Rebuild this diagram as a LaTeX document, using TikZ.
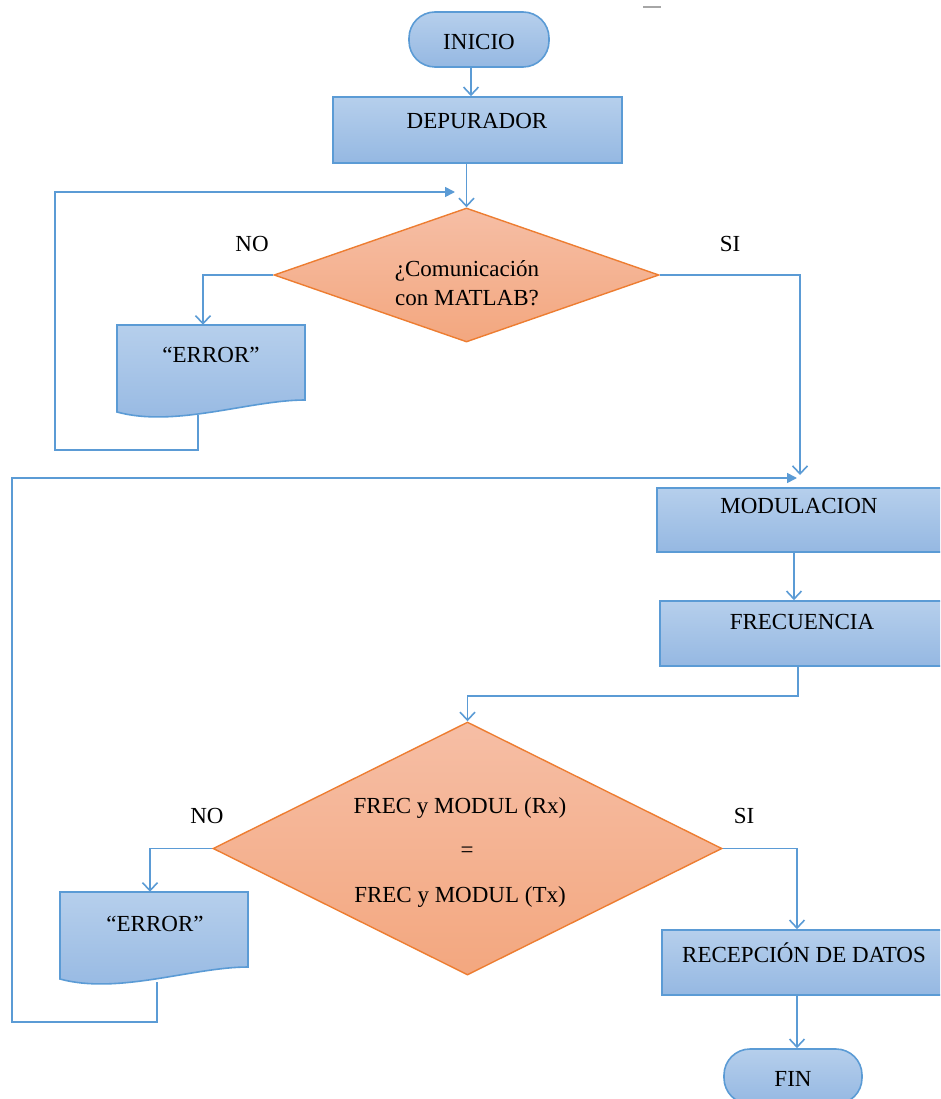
\documentclass[tikz,border=0pt]{standalone}
\usepackage{fontspec}
\setmainfont{Liberation Serif}
\usetikzlibrary{arrows.meta,calc,shapes.geometric}

\definecolor{boxtop}{HTML}{B6CFEC}
\definecolor{boxbot}{HTML}{95B8E2}
\definecolor{boxline}{HTML}{5B9BD5}
\definecolor{dectop}{HTML}{F6BEA5}
\definecolor{decbot}{HTML}{F3A77F}
\definecolor{decline}{HTML}{ED7D31}
\definecolor{flow}{HTML}{5B9BD5}

\tikzset{
  procbox/.style={rectangle, draw=boxline, line width=1.6pt,
    top color=boxtop, bottom color=boxbot, inner sep=0pt},
  termbox/.style={procbox, rounded corners=26pt},
  decbox/.style={diamond, draw=decline, line width=1.4pt,
    top color=dectop, bottom color=decbot, inner sep=0pt},
  docbox/.style={draw=boxline, line width=1.6pt,
    top color=boxtop, bottom color=boxbot},
  lbl/.style={font=\fontsize{23}{27}\selectfont, inner sep=0pt, align=center},
  flowline/.style={draw=flow, line width=1.6pt},
  arr/.style={flowline, -{Straight Barb[length=8pt,width=15pt,line width=1.6pt]}},
  tarr/.style={flowline, -{Triangle[length=10pt,width=10pt]}},
}

\begin{document}
\begin{tikzpicture}[x=1pt,y=-1pt]
\useasboundingbox (0,0) rectangle (940,1099);
\clip (0,0) rectangle (940,1099);

% stray rule at the top edge
\draw[gray!70, line width=1.2pt] (643,7) -- (661,7);

% ---------- shapes ----------
\node[termbox, minimum width=140pt, minimum height=55pt] (ini) at (479,39.5) {};
\node[lbl] (iniT) at (479,42) {INICIO};

\node[procbox, minimum width=289pt, minimum height=66pt] (dep) at (477.5,130) {};
\node[lbl] (depT) at (477,121) {DEPURADOR};

\node[decbox, minimum width=385pt, minimum height=134pt] (d1) at (466.5,275) {};
\node[lbl] (d1T) at (467,283) {¿Comunicación\\[2pt]con MATLAB?};

% first "ERROR" document
\node[minimum width=188pt, minimum height=90pt, inner sep=0pt] (e1) at (211,370) {};
\path[docbox] (117,325) -- (305,325) -- (305,400)
  .. controls (250,400) and (175,428) .. (117,412) -- cycle;
\node[lbl] (e1T) at (211,355) {“ERROR”};
\coordinate (e1out) at (198,415);

\node[procbox, minimum width=285pt, minimum height=64pt] (mod) at (799.5,520) {};
\node[lbl] (modT) at (799,506) {MODULACION};

\node[procbox, minimum width=282pt, minimum height=65pt] (frq) at (801,633.5) {};
\node[lbl] (frqT) at (802,622) {FRECUENCIA};

\node[decbox, minimum width=509pt, minimum height=253pt] (d2) at (467.5,848.5) {};
\node[lbl] (d2a) at (460,808) {FREC y MODUL (Rx)};
\node[lbl] (d2b) at (467,852) {=};
\node[lbl] (d2c) at (460,897) {FREC y MODUL (Tx)};

% second "ERROR" document
\node[minimum width=188pt, minimum height=90pt, inner sep=0pt] (e2) at (154,937) {};
\path[docbox] (60,892) -- (248,892) -- (248,967)
  .. controls (193,967) and (118,995) .. (60,979) -- cycle;
\node[lbl] (e2T) at (155,924) {“ERROR”};
\coordinate (e2out) at (157,982);

\node[procbox, minimum width=280pt, minimum height=65pt] (rec) at (802,962.5) {};
\node[lbl] (recT) at (804,953) {RECEPCIÓN DE DATOS};

\node[termbox, minimum width=138pt, minimum height=55pt] (fin) at (793,1076.5) {};
\node[lbl] (finT) at (793,1079) {FIN};

% ---------- labels ----------
\node[lbl] (no1) at (252,244) {NO};
\node[lbl] (si1) at (730,244) {SI};
\node[lbl] (no2) at (207,816) {NO};
\node[lbl] (si2) at (744,816) {SI};

% ---------- junction points ----------
\coordinate (iniOut) at ($(ini.south)+(-8,0)$);
\coordinate (loop1L) at (55,450);
\coordinate (loop1E) at (455,192);
\coordinate (modIn) at (800,475);
\coordinate (loop2L) at (12,1022);
\coordinate (loop2E) at (797,478);
\coordinate (modOut) at ($(mod.south)+(-5.5,0)$);
\coordinate (frqOut) at ($(frq.south)+(-3,0)$);
\coordinate (recOut) at ($(rec.south)+(-5,0)$);

% ---------- connectors ----------
\draw[arr] (iniOut) -- (iniOut |- dep.north);
\draw[arr] (d1.north |- dep.south) -- (d1.north);
\draw[arr] (d1.west) -| ($(e1.north)+(-8,0)$);
\draw[tarr] (e1out) |- (loop1L) |- (loop1E);
\draw[arr] (d1.east) -| (modIn);
\draw[tarr] (e2out) |- (loop2L) |- (loop2E);
\draw[arr] (modOut) -- (modOut |- frq.north);
\draw[arr] (frqOut) -- ++(0,29) -| (d2.north);
\draw[arr] (d2.west) -| ($(e2.north)+(-4,0)$);
\draw[arr] (d2.east) -| ($(rec.north)+(-5,0)$);
\draw[arr] (recOut) -- (recOut |- fin.north);
\end{tikzpicture}
\end{document}
